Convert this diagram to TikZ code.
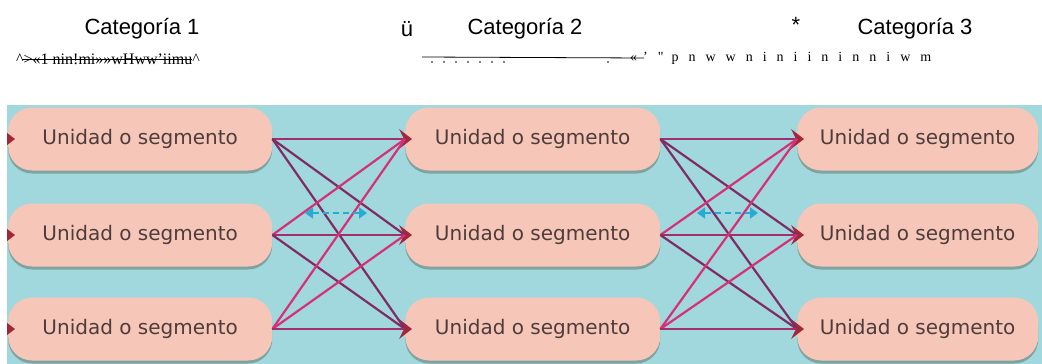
\documentclass[tikz,border=0pt]{standalone}
\usepackage{fontspec}
\setmainfont{Liberation Sans}
\newfontfamily\unitfont{DejaVu Sans}
\newfontfamily\scanfont{Liberation Serif}
\usetikzlibrary{positioning,arrows.meta,shadows}

\definecolor{sky}{RGB}{160,216,222}
\definecolor{peach}{RGB}{246,199,184}
\definecolor{inkbrown}{RGB}{78,60,60}
\definecolor{rosy}{RGB}{214,48,118}
\definecolor{plum}{RGB}{128,44,100}
\definecolor{wine}{RGB}{160,40,60}
\definecolor{azure}{RGB}{40,170,210}

\begin{document}
\begin{tikzpicture}[x=1pt,y=-1pt,
  unitbox/.style={fill=peach,rounded corners=24pt,minimum height=63pt,anchor=west,
    inner sep=0pt,text=inkbrown,font=\unitfont\fontsize{20}{24}\selectfont,
    drop shadow={shadow xshift=0pt,shadow yshift=-3pt,opacity=.3,fill=black!70!brown}},
  head/.style={font=\fontsize{22}{26}\selectfont},
  scan/.style={font=\scanfont\fontsize{16}{18}\selectfont,inner sep=0pt},
  link/.style={line width=2.2pt},
  fall/.style={draw=plum},
  rise/.style={draw=rosy},
  flat/.style={draw=plum!60!rosy},
  trade/.style={azure,line width=1.6pt,dash pattern=on 6pt off 4pt,
    {Triangle[width=11pt,length=8pt]}-{Triangle[width=11pt,length=8pt]}}]
\useasboundingbox (0,0) rectangle (1042,364);
% headings
\node[head] (cat1) at (142,29) {Categoría 1};
\node[head] (mark1) at (407,29) {ü};
\node[head] (cat2) at (525,29) {Categoría 2};
\node[head] (mark2) at (796,25) {*};
\node[head] (cat3) at (915,29) {Categoría 3};
% scanned residue under the headings
\node[scan] (scan1) at (108,59) {\textasciicircum>«1 nin!mi»»wHww’iimu\textasciicircum};
\draw[line width=0.8pt] ([xshift=6pt]scan1.west) -- ([xshift=-8pt]scan1.east);
\coordinate (rule2) at (422,57);
\node[scan,anchor=west,font=\scanfont\fontsize{14}{16}\selectfont] (scan2) at (630,58)
  {\spaceskip=10pt«\hspace{6pt}’\hspace{10pt}\textquotedbl\hspace{8pt}p n w w n i n i i n i n n i w m};
\draw[line width=0.8pt] (rule2) -- ([xshift=14pt]scan2.west);
\foreach \x in {432,444,...,504,608} \fill (\x,62) circle (0.9);
% picture
\fill[sky] (7,105) rectangle (1042,364);
\begin{scope}
\clip (7,105) rectangle (1042,364);
\foreach \c/\x/\w in {1/8/264,2/405/255,3/797/241}
  \foreach \r/\y in {1/139,2/235,3/329}
    {\node[unitbox,minimum width=\w] (c\c r\r) at (\x,\y) {Unidad o segmento};
     \fill[wine] (c\c r\r.west) ++(-6,-10) -- ++(13,10) -- ++(-13,10) -- ++(5,-10) -- cycle;}
% every unit to every unit of the next column
\foreach \c/\n in {1/2,2/3}
  \foreach \a in {1,2,3}
    \foreach \b in {1,2,3}
      {\ifnum\a<\b \def\lk{fall}\else\ifnum\a>\b \def\lk{rise}\else\def\lk{flat}\fi\fi
       \draw[link,\lk] (c\c r\a.east) -- (c\n r\b.west);}
\end{scope}
% exchange arrows
\coordinate (sw1l) at (305,213);
\coordinate (sw1r) at (367,213);
\coordinate (sw2l) at (697,213);
\coordinate (sw2r) at (758,213);
\draw[trade] (sw1l) -- (sw1r);
\draw[trade] (sw2l) -- (sw2r);
\end{tikzpicture}
\end{document}
